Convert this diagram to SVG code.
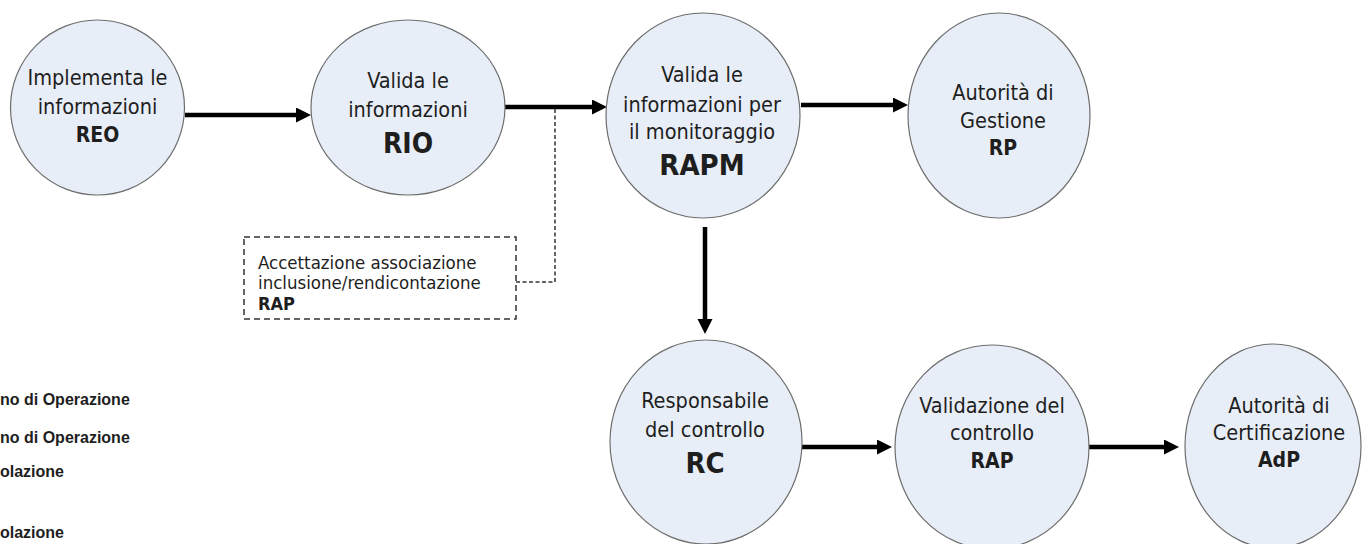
<svg xmlns="http://www.w3.org/2000/svg" width="1362" height="544" viewBox="0 0 1362 544">
<style>
.node{fill:#e8eef7;stroke:#6e6e6e;stroke-width:1.2}
.t{font-family:"DejaVu Sans Condensed","DejaVu Sans",sans-serif;font-stretch:condensed;font-size:21.5px;fill:#1e1e1e;text-anchor:middle}
.b{font-weight:bold;font-size:21px}
.big{font-size:29px}
.edge{stroke:#000;stroke-width:4.5;fill:none}
.dash{stroke:#333;stroke-width:1.5;fill:none;stroke-dasharray:4 2.5}
.box{fill:#fff;stroke:#333;stroke-width:1.5;stroke-dasharray:6 4}
.bt{font-family:"DejaVu Sans Condensed","DejaVu Sans",sans-serif;font-stretch:condensed;font-size:18.5px;fill:#1e1e1e}
.lg{font-family:"Liberation Sans",Arial,sans-serif;font-weight:bold;font-size:16px;fill:#1e1e1e}
</style>
<defs>
<marker id="ah" markerUnits="userSpaceOnUse" markerWidth="16" markerHeight="16" refX="0" refY="7.5" orient="auto">
<path d="M0,0 L15,7.5 L0,15 z" fill="#000"/>
</marker>
</defs>
<rect width="1362" height="544" fill="#fff"/>

<g id="legend">
<text class="lg" x="0" y="405">no di Operazione</text>
<text class="lg" x="0" y="443">no di Operazione</text>
<text class="lg" x="0" y="477">olazione</text>
<text class="lg" x="0" y="538">olazione</text>
</g>

<g id="connectors">
<path class="edge" d="M185,115 H296" marker-end="url(#ah)"/>
<path class="edge" d="M503,107 H592" marker-end="url(#ah)"/>
<path class="edge" d="M801,105 H893" marker-end="url(#ah)"/>
<path class="edge" d="M705,227 V319" marker-end="url(#ah)"/>
<path class="edge" d="M802,447 H877" marker-end="url(#ah)"/>
<path class="edge" d="M1089,447 H1164" marker-end="url(#ah)"/>
<path class="dash" d="M516,282 H555 V109"/>
</g>

<g id="note">
<rect class="box" x="244" y="237" width="272" height="82"/>
<text class="bt" x="258" y="269">Accettazione associazione</text>
<text class="bt" x="258" y="289">inclusione/rendicontazione</text>
<text class="bt b" x="258" y="310" style="font-size:18px">RAP</text>
</g>

<g id="n-reo">
<ellipse class="node" cx="97.5" cy="107.5" rx="87" ry="87.5"/>
<text class="t" x="97.5" y="85">Implementa le</text>
<text class="t" x="97.5" y="114">informazioni</text>
<text class="t b" x="97.5" y="142">REO</text>
</g>

<g id="n-rio">
<ellipse class="node" cx="408" cy="107.5" rx="97" ry="87.5"/>
<text class="t" x="408" y="88">Valida le</text>
<text class="t" x="408" y="117">informazioni</text>
<text class="t b" x="408" y="153" style="font-size:28px">RIO</text>
</g>

<g id="n-rapm">
<ellipse class="node" cx="703" cy="115.5" rx="97" ry="102.5"/>
<text class="t" x="702" y="82">Valida le</text>
<text class="t" x="702" y="112">informazioni per</text>
<text class="t" x="702" y="139">il monitoraggio</text>
<text class="t b big" x="702" y="175">RAPM</text>
</g>

<g id="n-rp">
<ellipse class="node" cx="999" cy="115.5" rx="91" ry="102.5"/>
<text class="t" x="1003" y="100">Autorità di</text>
<text class="t" x="1003" y="128">Gestione</text>
<text class="t b" x="1003" y="155">RP</text>
</g>

<g id="n-rc">
<ellipse class="node" cx="706" cy="442" rx="96" ry="102"/>
<text class="t" x="705" y="408">Responsabile</text>
<text class="t" x="705" y="437">del controllo</text>
<text class="t b big" x="705" y="473">RC</text>
</g>

<g id="n-val">
<ellipse class="node" cx="992" cy="447" rx="97" ry="102"/>
<text class="t" x="992" y="413">Validazione del</text>
<text class="t" x="992" y="440">controllo</text>
<text class="t b" x="992" y="468">RAP</text>
</g>

<g id="n-adp">
<ellipse class="node" cx="1273" cy="446" rx="88" ry="102"/>
<text class="t" x="1279" y="413">Autorità di</text>
<text class="t" x="1279" y="440">Certificazione</text>
<text class="t b" x="1279" y="467">AdP</text>
</g>
</svg>
